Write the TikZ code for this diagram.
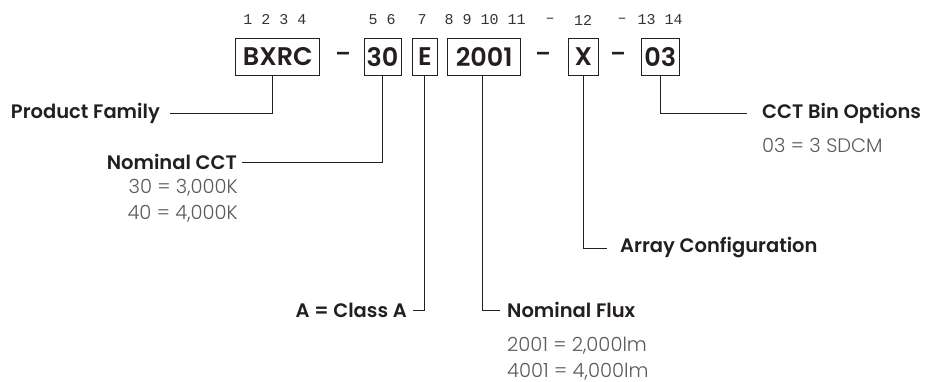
\documentclass[tikz,border=0pt]{standalone}
\usepackage{fontspec}
\setmainfont{Poppins}
\newfontfamily\semib{Poppins SemiBold}
\newfontfamily\lightf{Poppins Light}
\newfontfamily\digitfont{Liberation Mono}
\definecolor{ink}{HTML}{231F20}
\definecolor{val}{HTML}{5A5A5A}
\definecolor{dig}{HTML}{333333}
\begin{document}
\begin{tikzpicture}[x=1pt,y=-1pt,
  codebox/.style={draw=ink,line width=0.9pt,inner sep=0pt,minimum height=37pt,text=ink,font=\semib\fontsize{25.5}{28}\selectfont},
  dashmark/.style={text=ink,font=\semib\fontsize{22}{24}\selectfont,inner sep=0pt},
  digits/.style={text=dig,font=\digitfont\fontsize{15}{17}\selectfont,inner sep=0pt},
  lbl/.style={text=ink,font=\semib\fontsize{19.5}{22}\selectfont,inner sep=0pt},
  valtext/.style={text=val,font=\lightf\fontsize{19.5}{22}\selectfont,inner sep=0pt},
  conn/.style={draw=ink,line width=0.8pt}]
\useasboundingbox (0,0) rectangle (928,382);
% position digits
\node[digits] (d1) at (275,20) {1 2 3 4};
\node[digits] (d2) at (382,20) {5 6};
\node[digits] (d3) at (422,20) {7};
\node[digits] (d4) at (485,20) {8 9 10 11};
\node[digits] (d5) at (550,20) {–};
\node[digits] (d6) at (583,20) {12};
\node[digits] (d7) at (622,20) {–};
\node[digits] (d8) at (660,20) {13 14};
% code boxes
\node[codebox,minimum width=84pt] (bxrc) at (277.8,56.6) {BXRC};
\node[dashmark] (m1) at (343,57) {–};
\node[codebox,minimum width=37pt] (cct) at (382.5,56.6) {30};
\node[codebox,minimum width=24.5pt] (cls) at (424.8,56.6) {E};
\node[codebox,minimum width=73pt] (flx) at (484.2,56.6) {2001};
\node[dashmark] (m2) at (543,57) {–};
\node[codebox,minimum width=30pt] (arr) at (583.3,56.6) {X};
\node[dashmark] (m3) at (618,57) {–};
\node[codebox,minimum width=37.3pt] (bin) at (660.3,56.6) {03};
% labels
\node[lbl,anchor=east] (lpf) at (160,113) {Product Family};
\node[lbl,anchor=east] (lcct) at (237,162) {Nominal CCT};
\node[valtext,anchor=east] (v1) at (238,188) {30 = 3,000K};
\node[valtext,anchor=east] (v2) at (238,214) {40 = 4,000K};
\node[lbl,anchor=east] (lcls) at (407,310) {A = Class A};
\node[lbl,anchor=west] (lflx) at (507,310) {Nominal Flux};
\node[valtext,anchor=base west] (v3) at (507,351) {2001 = 2,000lm};
\node[valtext,anchor=base west] (v4) at (507,377) {4001 = 4,000lm};
\node[lbl,anchor=west] (larr) at (620,248) {Array Configuration};
\node[lbl,anchor=west] (lbin) at (762,113) {CCT Bin Options};
\node[valtext,anchor=west] (v5) at (762,145) {03 = 3 SDCM};
% connectors
\draw[conn] ([xshift=-5pt]bxrc.south) |- ([xshift=10pt]lpf.east);
\draw[conn] (cct.south) |- ([xshift=5pt]lcct.east);
\draw[conn] (cls.south) |- ([xshift=6pt]lcls.east);
\draw[conn] ([xshift=-1.5pt]flx.south) |- ([xshift=-7pt]lflx.west);
\draw[conn] (arr.south) |- ([xshift=-13pt]larr.west);
\draw[conn] (bin.south) |- ([xshift=-15pt]lbin.west);
\end{tikzpicture}
\end{document}
